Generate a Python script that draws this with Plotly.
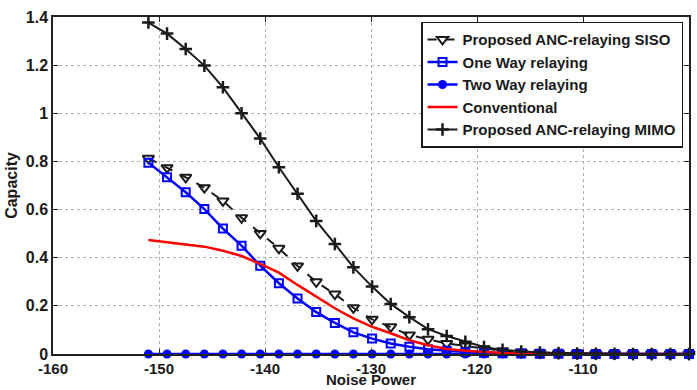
import plotly.graph_objects as go

noise_power = [-151.0, -149.24, -147.48, -145.72, -143.97, -142.21, -140.45, -138.69,
               -136.93, -135.17, -133.41, -131.66, -129.90, -128.14, -126.38, -124.62,
               -122.86, -121.10, -119.34, -117.59, -115.83, -114.07, -112.31, -110.55,
               -108.79, -107.03, -105.28, -103.52, -101.76, -100.0]

siso = [0.813, 0.774, 0.734, 0.691, 0.636, 0.566, 0.501, 0.439, 0.366, 0.300,
        0.249, 0.192, 0.144, 0.113, 0.079, 0.061, 0.044, 0.033, 0.022, 0.013,
        0.008, 0.005, 0.003, 0.002, 0.001, 0.001, 0.0, 0.0, 0.0, 0.0]

one_way = [0.795, 0.734, 0.672, 0.602, 0.521, 0.450, 0.367, 0.294, 0.231, 0.174,
           0.129, 0.090, 0.064, 0.044, 0.030, 0.020, 0.013, 0.008, 0.005, 0.003,
           0.002, 0.001, 0.001, 0.0, 0.0, 0.0, 0.0, 0.0, 0.0, 0.0]

two_way = [0.0] * 30

conventional = [0.474, 0.465, 0.456, 0.446, 0.429, 0.407, 0.374, 0.338, 0.287, 0.238,
                0.190, 0.148, 0.113, 0.086, 0.057, 0.036, 0.021, 0.014, 0.008, 0.004,
                0.002, 0.001, 0.0, 0.0, 0.0, 0.0, 0.0, 0.0, 0.0, 0.0]

mimo = [1.377, 1.331, 1.267, 1.198, 1.108, 1.000, 0.895, 0.776, 0.666, 0.553,
        0.457, 0.360, 0.280, 0.208, 0.153, 0.103, 0.075, 0.051, 0.029, 0.017,
        0.010, 0.006, 0.004, 0.002, 0.001, 0.001, 0.0, 0.0, 0.0, 0.0]

x_ticks = [-160, -150, -140, -130, -120, -110, -100]
x_tick_text = ["-160", "-150", "-140", "-130", "-120", "-110", "-100"]
y_ticks = [0, 0.2, 0.4, 0.6, 0.8, 1.0, 1.2, 1.4]
y_tick_text = ["0", "0.2", "0.4", "0.6", "0.8", "1", "1.2", "1.4"]

FONT = "Liberation Sans, Arial, sans-serif"

fig = go.Figure()

fig.add_trace(go.Scatter(
    x=noise_power, y=siso, name="Proposed ANC-relaying SISO", mode="lines+markers",
    line=dict(color="#1a1a1a", width=2, dash="dash"),
    marker=dict(symbol="triangle-down-open", size=10, color="#1a1a1a", line=dict(width=2)),
    cliponaxis=False))

fig.add_trace(go.Scatter(
    x=noise_power, y=one_way, name="One Way relaying", mode="lines+markers",
    line=dict(color="#0000ff", width=2.5),
    marker=dict(symbol="square-open", size=8, color="#0000ff", line=dict(width=2)),
    cliponaxis=False))

fig.add_trace(go.Scatter(
    x=noise_power, y=two_way, name="Two Way relaying", mode="lines+markers",
    line=dict(color="#0000ff", width=2.5),
    marker=dict(symbol="circle", size=9, color="#0000ff"),
    cliponaxis=False))

fig.add_trace(go.Scatter(
    x=noise_power, y=conventional, name="Conventional", mode="lines",
    line=dict(color="#ff0000", width=2.5),
    cliponaxis=False))

fig.add_trace(go.Scatter(
    x=noise_power, y=mimo, name="Proposed ANC-relaying MIMO", mode="lines+markers",
    line=dict(color="#1a1a1a", width=2),
    marker=dict(symbol="cross-thin-open", size=9, color="#1a1a1a", line=dict(width=2.5)),
    cliponaxis=False))

axis_common = dict(
    showline=True, linecolor="#222222", linewidth=1.5, mirror="ticks",
    ticks="inside", ticklen=5, tickwidth=1, tickcolor="#222222",
    showgrid=True, gridcolor="#b0b0b0", gridwidth=1, griddash="dot",
    zeroline=False, automargin=False,
)

fig.update_xaxes(
    range=[-160, -100], tickvals=x_ticks, ticktext=["<b>%s</b>" % t for t in x_tick_text],
    ticklabelstandoff=0,
    tickfont=dict(family=FONT, size=15, color="#1a1a1a", weight="bold"),
    **axis_common)

fig.update_yaxes(
    range=[0, 1.4], tickvals=y_ticks, ticktext=["<b>%s</b>" % t for t in y_tick_text],
    tickfont=dict(family=FONT, size=16, color="#1a1a1a", weight="bold"),
    title=dict(text="<b>Capacity</b>", font=dict(family=FONT, size=16, color="#1a1a1a"), standoff=4),
    **axis_common)

fig.add_annotation(
    text="<b>Noise Power</b>", xref="paper", yref="paper", x=0.5, y=-0.104,
    xanchor="center", yanchor="bottom", showarrow=False, borderpad=0,
    font=dict(family=FONT, size=15, color="#1a1a1a"))

fig.update_layout(
    width=697, height=390,
    margin=dict(l=53, r=8, t=17, b=36),
    paper_bgcolor="white", plot_bgcolor="white",
    showlegend=True,
    legend=dict(
        x=0.9906, y=0.986, xanchor="right", yanchor="top",
        bgcolor="white", bordercolor="#1a1a1a", borderwidth=1.5,
        font=dict(family=FONT, size=15, color="#1a1a1a", weight="bold"),
        itemwidth=30, tracegroupgap=0,
    ),
)

fig.write_html("out.html")
